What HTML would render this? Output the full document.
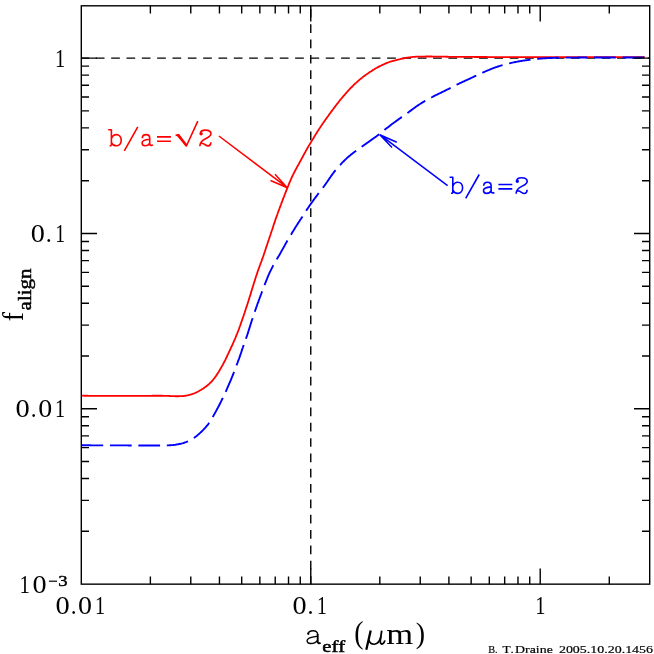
<!DOCTYPE html>
<html><head><meta charset="utf-8"><title>f_align</title>
<style>
html,body{margin:0;padding:0;background:#fff;}
svg{display:block;}
text{font-family:"Liberation Serif",serif;}
.m{font-family:"Liberation Mono",monospace;}
</style></head><body>
<svg width="654" height="654" viewBox="0 0 654 654">
<rect width="654" height="654" fill="#fff"/>
<!-- dashed reference lines -->
<path d="M81.3,58.15 H649.7" stroke="#000" stroke-width="1.4" fill="none" stroke-dasharray="8.7 6.63" stroke-dashoffset="0.8"/>
<path d="M310.76,584.15 V5.8" stroke="#000" stroke-width="1.4" fill="none" stroke-dasharray="8.7 6.63" stroke-dashoffset="0.65"/>
<!-- curves -->
<path d="M81.5,395.70 L82.5,395.71 L83.5,395.72 L84.5,395.74 L85.5,395.75 L86.5,395.76 L87.5,395.77 L88.5,395.78 L89.5,395.80 L90.5,395.81 L91.5,395.82 L92.5,395.83 L93.5,395.84 L94.5,395.85 L95.5,395.85 L96.5,395.86 L97.5,395.87 L98.5,395.88 L99.5,395.88 L100.5,395.89 L101.5,395.89 L102.5,395.89 L103.5,395.89 L104.5,395.90 L105.5,395.90 L106.5,395.90 L107.5,395.90 L108.5,395.90 L109.5,395.90 L110.5,395.90 L111.5,395.90 L112.5,395.90 L113.5,395.90 L114.5,395.90 L115.5,395.90 L116.5,395.90 L117.5,395.90 L118.5,395.90 L119.5,395.90 L120.5,395.90 L121.5,395.90 L122.5,395.90 L123.5,395.90 L124.5,395.90 L125.5,395.90 L126.5,395.90 L127.5,395.90 L128.5,395.90 L129.5,395.90 L130.5,395.90 L131.5,395.90 L132.5,395.90 L133.5,395.90 L134.5,395.90 L135.5,395.90 L136.5,395.90 L137.5,395.90 L138.5,395.90 L139.5,395.89 L140.5,395.89 L141.5,395.89 L142.5,395.88 L143.5,395.87 L144.5,395.86 L145.5,395.86 L146.5,395.84 L147.5,395.83 L148.5,395.82 L149.5,395.81 L150.5,395.79 L151.5,395.78 L152.5,395.77 L153.5,395.76 L154.5,395.75 L155.5,395.74 L156.5,395.73 L157.5,395.73 L158.5,395.73 L159.5,395.73 L160.5,395.74 L161.5,395.75 L162.5,395.77 L163.5,395.79 L164.5,395.82 L165.5,395.85 L166.5,395.89 L167.5,395.93 L168.5,395.97 L169.5,396.02 L170.5,396.06 L171.5,396.11 L172.5,396.15 L173.5,396.19 L174.5,396.21 L175.5,396.23 L176.5,396.25 L177.5,396.25 L178.5,396.24 L179.5,396.22 L180.5,396.19 L181.5,396.14 L182.5,396.08 L183.5,396.00 L184.5,395.89 L185.4,395.76 L186.4,395.61 L187.4,395.42 L188.4,395.21 L189.3,394.98 L190.3,394.71 L191.3,394.43 L192.2,394.11 L193.1,393.77 L194.1,393.41 L195.0,393.03 L195.9,392.62 L196.8,392.19 L197.7,391.75 L198.6,391.28 L199.4,390.80 L200.3,390.31 L201.2,389.80 L202.0,389.27 L202.9,388.73 L203.7,388.17 L204.5,387.60 L205.3,387.01 L206.1,386.41 L206.9,385.80 L207.7,385.17 L208.4,384.53 L209.2,383.87 L209.9,383.19 L210.6,382.49 L211.3,381.78 L212.0,381.05 L212.7,380.31 L213.3,379.54 L213.9,378.77 L214.5,377.98 L215.1,377.18 L215.7,376.37 L216.3,375.55 L216.8,374.72 L217.4,373.88 L217.9,373.04 L218.5,372.19 L219.0,371.34 L219.5,370.48 L220.0,369.62 L220.5,368.76 L221.0,367.89 L221.5,367.03 L222.0,366.15 L222.5,365.28 L223.0,364.40 L223.4,363.52 L223.9,362.64 L224.4,361.75 L224.8,360.86 L225.3,359.97 L225.7,359.07 L226.1,358.17 L226.6,357.27 L227.0,356.36 L227.4,355.46 L227.8,354.55 L228.3,353.64 L228.7,352.74 L229.1,351.83 L229.5,350.93 L230.0,350.02 L230.4,349.12 L230.8,348.21 L231.2,347.31 L231.6,346.40 L232.1,345.49 L232.5,344.58 L232.9,343.67 L233.3,342.75 L233.7,341.84 L234.1,340.92 L234.5,340.00 L234.9,339.08 L235.3,338.16 L235.7,337.24 L236.0,336.32 L236.4,335.39 L236.8,334.46 L237.2,333.54 L237.5,332.61 L237.9,331.67 L238.3,330.74 L238.6,329.81 L239.0,328.87 L239.3,327.93 L239.6,326.99 L240.0,326.05 L240.3,325.11 L240.7,324.17 L241.0,323.22 L241.3,322.28 L241.6,321.34 L242.0,320.39 L242.3,319.45 L242.6,318.50 L242.9,317.55 L243.3,316.61 L243.6,315.66 L243.9,314.71 L244.2,313.77 L244.6,312.82 L244.9,311.87 L245.2,310.92 L245.5,309.97 L245.8,309.02 L246.1,308.07 L246.4,307.12 L246.8,306.17 L247.1,305.22 L247.4,304.27 L247.7,303.32 L248.0,302.37 L248.3,301.41 L248.6,300.46 L248.9,299.50 L249.2,298.55 L249.5,297.59 L249.8,296.64 L250.1,295.68 L250.4,294.73 L250.7,293.77 L251.0,292.82 L251.2,291.86 L251.5,290.91 L251.8,289.95 L252.1,289.00 L252.4,288.04 L252.7,287.09 L253.0,286.13 L253.3,285.18 L253.6,284.22 L253.9,283.27 L254.2,282.31 L254.5,281.36 L254.8,280.41 L255.1,279.45 L255.4,278.50 L255.7,277.55 L256.0,276.60 L256.3,275.65 L256.7,274.70 L257.0,273.75 L257.3,272.80 L257.6,271.85 L257.9,270.90 L258.3,269.96 L258.6,269.01 L258.9,268.07 L259.3,267.13 L259.6,266.19 L259.9,265.25 L260.3,264.32 L260.6,263.38 L261.0,262.45 L261.4,261.51 L261.7,260.57 L262.0,259.63 L262.4,258.69 L262.7,257.75 L263.1,256.81 L263.4,255.87 L263.7,254.92 L264.0,253.97 L264.3,253.02 L264.7,252.08 L265.0,251.13 L265.3,250.18 L265.6,249.23 L265.9,248.28 L266.2,247.33 L266.5,246.38 L266.9,245.43 L267.2,244.48 L267.5,243.53 L267.8,242.58 L268.1,241.64 L268.4,240.69 L268.8,239.74 L269.1,238.79 L269.4,237.84 L269.7,236.90 L270.0,235.95 L270.4,235.00 L270.7,234.05 L271.0,233.10 L271.3,232.16 L271.6,231.21 L271.9,230.26 L272.3,229.31 L272.6,228.36 L272.9,227.41 L273.2,226.46 L273.5,225.51 L273.8,224.56 L274.1,223.61 L274.5,222.66 L274.8,221.72 L275.1,220.77 L275.4,219.82 L275.7,218.88 L276.1,217.93 L276.4,216.99 L276.7,216.05 L277.1,215.10 L277.4,214.16 L277.7,213.22 L278.1,212.28 L278.4,211.34 L278.8,210.40 L279.1,209.46 L279.5,208.53 L279.8,207.59 L280.2,206.65 L280.5,205.71 L280.9,204.78 L281.2,203.84 L281.6,202.91 L281.9,201.97 L282.3,201.03 L282.6,200.10 L283.0,199.16 L283.3,198.23 L283.7,197.30 L284.1,196.36 L284.4,195.43 L284.8,194.50 L285.1,193.56 L285.5,192.63 L285.9,191.70 L286.2,190.77 L286.6,189.84 L287.0,188.91 L287.3,187.98 L287.7,187.05 L288.1,186.12 L288.4,185.19 L288.8,184.27 L289.2,183.34 L289.6,182.42 L290.0,181.50 L290.4,180.58 L290.8,179.66 L291.2,178.75 L291.6,177.84 L292.0,176.93 L292.4,176.03 L292.9,175.13 L293.3,174.23 L293.8,173.34 L294.2,172.45 L294.7,171.56 L295.1,170.68 L295.6,169.79 L296.1,168.91 L296.6,168.03 L297.0,167.15 L297.5,166.28 L298.0,165.40 L298.5,164.53 L299.0,163.65 L299.4,162.78 L299.9,161.90 L300.4,161.03 L300.9,160.15 L301.4,159.27 L301.8,158.39 L302.3,157.51 L302.8,156.63 L303.3,155.75 L303.7,154.87 L304.2,153.98 L304.7,153.10 L305.2,152.23 L305.6,151.35 L306.1,150.48 L306.6,149.60 L307.1,148.74 L307.6,147.87 L308.1,147.01 L308.6,146.15 L309.1,145.29 L309.7,144.43 L310.2,143.57 L310.7,142.71 L311.2,141.86 L311.7,141.00 L312.2,140.14 L312.7,139.28 L313.3,138.42 L313.8,137.57 L314.3,136.71 L314.8,135.86 L315.3,135.00 L315.8,134.15 L316.4,133.30 L316.9,132.45 L317.4,131.61 L318.0,130.76 L318.5,129.92 L319.1,129.08 L319.6,128.25 L320.2,127.41 L320.7,126.58 L321.3,125.75 L321.8,124.92 L322.4,124.09 L323.0,123.27 L323.5,122.45 L324.1,121.63 L324.7,120.81 L325.2,119.99 L325.8,119.18 L326.4,118.36 L327.0,117.55 L327.6,116.74 L328.2,115.93 L328.8,115.13 L329.3,114.32 L329.9,113.52 L330.5,112.71 L331.1,111.91 L331.7,111.10 L332.3,110.30 L332.9,109.50 L333.5,108.70 L334.1,107.90 L334.7,107.10 L335.3,106.30 L335.9,105.50 L336.5,104.71 L337.1,103.91 L337.8,103.12 L338.4,102.33 L339.0,101.55 L339.6,100.76 L340.2,99.98 L340.9,99.21 L341.5,98.43 L342.1,97.66 L342.8,96.90 L343.4,96.13 L344.1,95.37 L344.7,94.61 L345.4,93.86 L346.0,93.11 L346.7,92.36 L347.4,91.62 L348.0,90.88 L348.7,90.15 L349.4,89.42 L350.1,88.69 L350.8,87.97 L351.5,87.25 L352.2,86.54 L352.9,85.83 L353.6,85.13 L354.3,84.44 L355.0,83.75 L355.8,83.07 L356.5,82.39 L357.3,81.73 L358.0,81.07 L358.8,80.41 L359.5,79.77 L360.3,79.13 L361.1,78.50 L361.9,77.88 L362.6,77.26 L363.4,76.65 L364.2,76.05 L365.0,75.45 L365.8,74.86 L366.6,74.27 L367.5,73.70 L368.3,73.12 L369.1,72.56 L369.9,72.00 L370.8,71.45 L371.6,70.91 L372.5,70.38 L373.3,69.85 L374.2,69.33 L375.0,68.82 L375.9,68.32 L376.8,67.83 L377.6,67.35 L378.5,66.87 L379.4,66.41 L380.3,65.95 L381.2,65.51 L382.1,65.07 L383.0,64.64 L383.9,64.23 L384.8,63.82 L385.7,63.43 L386.6,63.05 L387.6,62.69 L388.5,62.34 L389.5,62.01 L390.4,61.70 L391.4,61.41 L392.3,61.14 L393.3,60.88 L394.2,60.63 L395.2,60.39 L396.2,60.16 L397.2,59.92 L398.1,59.69 L399.1,59.45 L400.1,59.21 L401.0,58.97 L402.0,58.73 L403.0,58.50 L404.0,58.28 L404.9,58.07 L405.9,57.88 L406.9,57.70 L407.9,57.55 L408.9,57.40 L409.9,57.27 L410.8,57.16 L411.8,57.06 L412.8,56.97 L413.8,56.89 L414.8,56.82 L415.8,56.76 L416.8,56.71 L417.8,56.67 L418.8,56.63 L419.8,56.60 L420.8,56.58 L421.8,56.57 L422.8,56.55 L423.8,56.54 L424.8,56.53 L425.8,56.52 L426.8,56.52 L427.8,56.51 L428.8,56.51 L429.8,56.51 L430.8,56.52 L431.8,56.52 L432.8,56.53 L433.8,56.54 L434.8,56.55 L435.8,56.56 L436.8,56.58 L437.8,56.59 L438.8,56.61 L439.8,56.63 L440.8,56.64 L441.8,56.66 L442.8,56.68 L443.8,56.70 L444.8,56.72 L445.8,56.73 L446.8,56.75 L447.8,56.76 L448.8,56.78 L449.8,56.79 L450.8,56.80 L451.8,56.81 L452.8,56.82 L453.8,56.83 L454.8,56.84 L455.8,56.85 L456.8,56.86 L457.8,56.87 L458.8,56.88 L459.8,56.88 L460.8,56.89 L461.8,56.90 L462.8,56.91 L463.8,56.91 L464.8,56.92 L465.8,56.93 L466.8,56.93 L467.8,56.94 L468.8,56.94 L469.8,56.95 L470.8,56.96 L471.8,56.96 L472.8,56.97 L473.8,56.97 L474.8,56.98 L475.8,56.98 L476.8,56.99 L477.8,56.99 L478.8,56.99 L479.8,57.00 L480.8,57.00 L481.8,57.01 L482.8,57.01 L483.8,57.01 L484.8,57.02 L485.8,57.02 L486.8,57.02 L487.8,57.03 L488.8,57.03 L489.8,57.04 L490.8,57.04 L491.8,57.04 L492.8,57.05 L493.8,57.05 L494.8,57.05 L495.8,57.06 L496.8,57.06 L497.8,57.06 L498.8,57.06 L499.8,57.07 L500.8,57.07 L501.8,57.07 L502.8,57.08 L503.8,57.08 L504.8,57.08 L505.8,57.08 L506.8,57.08 L507.8,57.09 L508.8,57.09 L509.8,57.09 L510.8,57.09 L511.8,57.09 L512.8,57.09 L513.8,57.10 L514.8,57.10 L515.8,57.10 L516.8,57.10 L517.8,57.10 L518.8,57.10 L519.8,57.10 L520.8,57.10 L521.8,57.10 L522.8,57.10 L523.8,57.10 L524.8,57.10 L525.8,57.10 L526.8,57.10 L527.8,57.10 L528.8,57.10 L529.8,57.10 L530.8,57.10 L531.8,57.10 L532.8,57.10 L533.8,57.10 L534.8,57.10 L535.8,57.10 L536.8,57.10 L537.8,57.10 L538.8,57.10 L539.8,57.10 L540.8,57.10 L541.8,57.10 L542.8,57.10 L543.8,57.10 L544.8,57.10 L545.8,57.10 L546.8,57.10 L547.8,57.10 L548.8,57.10 L549.8,57.10 L550.8,57.10 L551.8,57.10 L552.8,57.10 L553.8,57.10 L554.8,57.10 L555.8,57.10 L556.8,57.10 L557.8,57.10 L558.8,57.10 L559.8,57.10 L560.8,57.10 L561.8,57.10 L562.8,57.10 L563.8,57.10 L564.8,57.10 L565.8,57.10 L566.8,57.10 L567.8,57.10 L568.8,57.10 L569.8,57.10 L570.8,57.10 L571.8,57.10 L572.8,57.10 L573.8,57.10 L574.8,57.10 L575.8,57.10 L576.8,57.10 L577.8,57.10 L578.8,57.10 L579.8,57.10 L580.8,57.10 L581.8,57.10 L582.8,57.10 L583.8,57.10 L584.8,57.10 L585.8,57.10 L586.8,57.10 L587.8,57.10 L588.8,57.10 L589.8,57.10 L590.8,57.10 L591.8,57.10 L592.8,57.10 L593.8,57.10 L594.8,57.10 L595.8,57.10 L596.8,57.10 L597.8,57.10 L598.8,57.10 L599.8,57.10 L600.8,57.10 L601.8,57.10 L602.8,57.10 L603.8,57.10 L604.8,57.10 L605.8,57.10 L606.8,57.10 L607.8,57.10 L608.8,57.10 L609.8,57.10 L610.8,57.10 L611.8,57.10 L612.8,57.10 L613.8,57.10 L614.8,57.10 L615.8,57.10 L616.8,57.10 L617.8,57.10 L618.8,57.10 L619.8,57.10 L620.8,57.10 L621.8,57.10 L622.8,57.10 L623.8,57.10 L624.8,57.10 L625.8,57.10 L626.8,57.10 L627.8,57.10 L628.8,57.10 L629.8,57.10 L630.8,57.10 L631.8,57.10 L632.8,57.10 L633.8,57.10 L634.8,57.10 L635.8,57.10 L636.8,57.10 L637.8,57.10 L638.8,57.10 L639.8,57.10 L640.7,57.10 L641.6,57.10 L642.5,57.10 L643.3,57.10 L644.1,57.10 L644.8,57.10" stroke="#ff0000" stroke-width="1.8" fill="none" stroke-linejoin="round"/>
<path d="M81.5,445.30 L82.5,445.30 L83.5,445.31 L84.5,445.31 L85.5,445.31 L86.5,445.31 L87.5,445.32 L88.5,445.32 L89.5,445.32 L90.5,445.32 L91.5,445.33 L92.5,445.33 L93.5,445.33 L94.5,445.33 L95.5,445.34 L96.5,445.34 L97.5,445.34 L98.5,445.34 L99.5,445.35 L100.5,445.35 L101.5,445.35 L102.5,445.35 L103.5,445.36 L104.5,445.36 L105.5,445.36 L106.5,445.37 L107.5,445.37 L108.5,445.37 L109.5,445.37 L110.5,445.38 L111.5,445.38 L112.5,445.38 L113.5,445.38 L114.5,445.39 L115.5,445.39 L116.5,445.39 L117.5,445.39 L118.5,445.40 L119.5,445.40 L120.5,445.40 L121.5,445.40 L122.5,445.41 L123.5,445.41 L124.5,445.41 L125.5,445.42 L126.5,445.42 L127.5,445.42 L128.5,445.43 L129.5,445.43 L130.5,445.43 L131.5,445.44 L132.5,445.44 L133.5,445.44 L134.5,445.44 L135.5,445.45 L136.5,445.45 L137.5,445.45 L138.5,445.46 L139.5,445.46 L140.5,445.46 L141.5,445.47 L142.5,445.47 L143.5,445.47 L144.5,445.48 L145.5,445.48 L146.5,445.48 L147.5,445.48 L148.5,445.49 L149.5,445.49 L150.5,445.49 L151.5,445.49 L152.5,445.49 L153.5,445.49 L154.5,445.50 L155.5,445.50 L156.5,445.50 L157.5,445.50 L158.5,445.50 L159.5,445.50 L160.5,445.50 L161.5,445.50 L162.5,445.49 L163.5,445.49 L164.5,445.48 L165.5,445.47 L166.5,445.45 L167.5,445.42 L168.5,445.38 L169.5,445.32 L170.5,445.26 L171.5,445.17 L172.5,445.08 L173.5,444.97 L174.5,444.84 L175.5,444.71 L176.4,444.55 L177.4,444.39 L178.4,444.21 L179.4,444.01 L180.4,443.80 L181.3,443.57 L182.3,443.32 L183.3,443.05 L184.2,442.75 L185.1,442.43 L186.1,442.09 L187.0,441.73 L187.9,441.33 L188.8,440.92 L189.7,440.48 L190.6,440.01 L191.5,439.53 L192.3,439.02 L193.2,438.48 L194.0,437.93 L194.8,437.35 L195.6,436.76 L196.4,436.14 L197.2,435.52 L197.9,434.87 L198.7,434.22 L199.4,433.56 L200.2,432.89 L200.9,432.20 L201.6,431.52 L202.3,430.82 L203.0,430.11 L203.7,429.39 L204.4,428.67 L205.1,427.93 L205.8,427.18 L206.4,426.42 L207.0,425.65 L207.7,424.86 L208.3,424.07 L208.8,423.26 L209.4,422.44 L210.0,421.60 L210.5,420.76 L211.0,419.91 L211.5,419.06 L212.0,418.20 L212.5,417.34 L213.0,416.47 L213.5,415.60 L214.0,414.73 L214.5,413.86 L215.0,412.98 L215.5,412.11 L216.0,411.23 L216.4,410.35 L216.9,409.47 L217.4,408.59 L217.9,407.71 L218.3,406.82 L218.8,405.94 L219.3,405.05 L219.7,404.16 L220.2,403.27 L220.6,402.38 L221.1,401.48 L221.5,400.59 L221.9,399.69 L222.4,398.79 L222.8,397.89 L223.3,396.99 L223.7,396.09 L224.1,395.18 L224.5,394.27 L225.0,393.37 L225.4,392.46 L225.8,391.55 L226.2,390.64 L226.6,389.73 L227.0,388.81 L227.4,387.90 L227.8,386.99 L228.2,386.07 L228.6,385.16 L229.0,384.24 L229.4,383.32 L229.8,382.40 L230.2,381.48 L230.6,380.56 L231.0,379.64 L231.4,378.71 L231.7,377.79 L232.1,376.86 L232.5,375.93 L232.9,375.00 L233.2,374.06 L233.6,373.13 L233.9,372.20 L234.3,371.26 L234.6,370.32 L235.0,369.39 L235.3,368.45 L235.7,367.52 L236.0,366.58 L236.4,365.65 L236.8,364.71 L237.1,363.78 L237.5,362.85 L237.8,361.91 L238.2,360.98 L238.5,360.05 L238.9,359.11 L239.2,358.17 L239.6,357.23 L239.9,356.29 L240.2,355.34 L240.5,354.39 L240.9,353.44 L241.2,352.50 L241.5,351.55 L241.8,350.60 L242.1,349.65 L242.4,348.70 L242.8,347.75 L243.1,346.81 L243.4,345.86 L243.7,344.92 L244.1,343.98 L244.4,343.03 L244.8,342.09 L245.1,341.16 L245.4,340.22 L245.8,339.28 L246.1,338.33 L246.4,337.39 L246.8,336.45 L247.1,335.50 L247.4,334.55 L247.7,333.60 L248.0,332.65 L248.3,331.70 L248.6,330.75 L248.9,329.79 L249.2,328.84 L249.5,327.88 L249.8,326.93 L250.1,325.97 L250.4,325.02 L250.7,324.06 L251.0,323.11 L251.3,322.16 L251.6,321.20 L251.9,320.25 L252.2,319.30 L252.6,318.35 L252.9,317.40 L253.2,316.45 L253.5,315.50 L253.8,314.56 L254.1,313.61 L254.5,312.66 L254.8,311.72 L255.1,310.77 L255.4,309.83 L255.8,308.88 L256.1,307.94 L256.4,306.99 L256.8,306.05 L257.1,305.11 L257.4,304.17 L257.8,303.23 L258.1,302.29 L258.5,301.34 L258.8,300.40 L259.1,299.46 L259.5,298.53 L259.8,297.59 L260.2,296.65 L260.5,295.71 L260.9,294.77 L261.2,293.83 L261.6,292.90 L261.9,291.96 L262.3,291.02 L262.6,290.09 L263.0,289.15 L263.3,288.22 L263.7,287.28 L264.0,286.35 L264.4,285.42 L264.8,284.48 L265.1,283.55 L265.5,282.62 L265.9,281.69 L266.2,280.76 L266.6,279.83 L267.0,278.91 L267.3,277.98 L267.7,277.06 L268.1,276.13 L268.5,275.21 L268.9,274.30 L269.3,273.38 L269.7,272.47 L270.1,271.57 L270.6,270.67 L271.0,269.77 L271.5,268.87 L271.9,267.98 L272.4,267.10 L272.8,266.22 L273.3,265.34 L273.8,264.46 L274.3,263.59 L274.8,262.73 L275.3,261.86 L275.8,261.00 L276.3,260.14 L276.8,259.28 L277.3,258.42 L277.8,257.55 L278.3,256.69 L278.9,255.83 L279.4,254.96 L279.9,254.10 L280.4,253.23 L280.8,252.36 L281.3,251.49 L281.8,250.62 L282.3,249.75 L282.8,248.88 L283.3,248.00 L283.8,247.13 L284.3,246.25 L284.7,245.37 L285.2,244.50 L285.7,243.63 L286.2,242.76 L286.7,241.89 L287.2,241.02 L287.7,240.16 L288.2,239.30 L288.7,238.44 L289.2,237.58 L289.8,236.73 L290.3,235.87 L290.8,235.01 L291.3,234.16 L291.8,233.30 L292.3,232.44 L292.8,231.59 L293.4,230.73 L293.9,229.87 L294.4,229.02 L294.9,228.16 L295.4,227.31 L296.0,226.47 L296.5,225.62 L297.1,224.78 L297.6,223.94 L298.1,223.10 L298.7,222.27 L299.2,221.44 L299.8,220.60 L300.3,219.77 L300.9,218.93 L301.4,218.10 L302.0,217.26 L302.5,216.42 L303.1,215.57 L303.6,214.73 L304.1,213.89 L304.7,213.04 L305.2,212.20 L305.8,211.36 L306.3,210.52 L306.8,209.68 L307.4,208.85 L308.0,208.02 L308.5,207.19 L309.1,206.37 L309.7,205.55 L310.2,204.73 L310.8,203.92 L311.4,203.11 L312.0,202.29 L312.6,201.48 L313.1,200.67 L313.7,199.86 L314.3,199.05 L314.9,198.24 L315.5,197.43 L316.1,196.62 L316.7,195.81 L317.3,195.01 L317.9,194.21 L318.5,193.41 L319.1,192.62 L319.7,191.83 L320.3,191.04 L320.9,190.25 L321.5,189.47 L322.2,188.68 L322.8,187.89 L323.4,187.10 L324.0,186.30 L324.6,185.50 L325.2,184.69 L325.7,183.88 L326.3,183.06 L326.9,182.24 L327.4,181.41 L328.0,180.58 L328.6,179.76 L329.1,178.93 L329.7,178.10 L330.3,177.28 L330.8,176.46 L331.4,175.65 L332.0,174.84 L332.6,174.03 L333.2,173.23 L333.8,172.43 L334.4,171.64 L335.0,170.86 L335.7,170.08 L336.3,169.31 L336.9,168.55 L337.6,167.79 L338.2,167.04 L338.9,166.29 L339.6,165.55 L340.3,164.81 L340.9,164.08 L341.6,163.35 L342.3,162.63 L343.0,161.92 L343.7,161.21 L344.4,160.50 L345.1,159.81 L345.9,159.12 L346.6,158.44 L347.3,157.76 L348.1,157.10 L348.8,156.44 L349.6,155.79 L350.4,155.15 L351.1,154.52 L351.9,153.90 L352.7,153.28 L353.5,152.67 L354.3,152.07 L355.1,151.48 L355.9,150.89 L356.7,150.30 L357.5,149.72 L358.3,149.14 L359.2,148.56 L360.0,147.98 L360.8,147.40 L361.6,146.83 L362.4,146.25 L363.2,145.67 L364.1,145.10 L364.9,144.52 L365.7,143.94 L366.5,143.36 L367.3,142.79 L368.1,142.21 L369.0,141.63 L369.8,141.05 L370.6,140.47 L371.4,139.89 L372.2,139.32 L373.0,138.74 L373.8,138.16 L374.7,137.57 L375.5,136.99 L376.3,136.40 L377.1,135.80 L377.9,135.20 L378.7,134.59 L379.5,133.98 L380.3,133.36 L381.0,132.74 L381.8,132.12 L382.6,131.49 L383.4,130.86 L384.2,130.24 L384.9,129.61 L385.7,128.99 L386.5,128.37 L387.3,127.75 L388.1,127.13 L388.9,126.52 L389.7,125.91 L390.4,125.30 L391.2,124.70 L392.0,124.09 L392.8,123.49 L393.6,122.90 L394.4,122.30 L395.3,121.71 L396.1,121.12 L396.9,120.53 L397.7,119.94 L398.5,119.36 L399.3,118.78 L400.1,118.19 L400.9,117.61 L401.7,117.03 L402.6,116.46 L403.4,115.88 L404.2,115.30 L405.0,114.73 L405.8,114.15 L406.6,113.57 L407.5,112.99 L408.3,112.41 L409.1,111.82 L409.9,111.23 L410.7,110.63 L411.5,110.04 L412.3,109.44 L413.1,108.84 L413.9,108.24 L414.7,107.65 L415.5,107.07 L416.3,106.49 L417.1,105.92 L418.0,105.35 L418.8,104.80 L419.6,104.25 L420.5,103.71 L421.3,103.18 L422.2,102.65 L423.0,102.13 L423.9,101.62 L424.7,101.11 L425.6,100.61 L426.5,100.11 L427.4,99.62 L428.2,99.14 L429.1,98.66 L430.0,98.19 L430.9,97.72 L431.8,97.26 L432.6,96.80 L433.5,96.35 L434.4,95.90 L435.3,95.46 L436.2,95.02 L437.1,94.58 L438.0,94.14 L438.9,93.70 L439.8,93.26 L440.7,92.82 L441.6,92.38 L442.5,91.94 L443.4,91.50 L444.3,91.05 L445.2,90.61 L446.1,90.16 L447.0,89.71 L447.9,89.26 L448.8,88.81 L449.7,88.35 L450.6,87.90 L451.4,87.44 L452.3,86.98 L453.2,86.52 L454.1,86.06 L455.0,85.61 L455.9,85.16 L456.8,84.71 L457.7,84.27 L458.6,83.83 L459.5,83.40 L460.4,82.97 L461.3,82.55 L462.2,82.13 L463.1,81.71 L464.0,81.29 L464.9,80.88 L465.8,80.46 L466.7,80.04 L467.6,79.62 L468.6,79.20 L469.5,78.78 L470.4,78.35 L471.3,77.93 L472.2,77.50 L473.1,77.08 L474.0,76.66 L474.9,76.23 L475.8,75.81 L476.7,75.39 L477.6,74.97 L478.5,74.55 L479.4,74.13 L480.3,73.71 L481.3,73.30 L482.2,72.88 L483.1,72.47 L484.0,72.06 L484.9,71.65 L485.8,71.24 L486.7,70.83 L487.6,70.43 L488.6,70.04 L489.5,69.65 L490.4,69.26 L491.3,68.89 L492.3,68.52 L493.2,68.17 L494.1,67.82 L495.1,67.48 L496.0,67.15 L497.0,66.83 L497.9,66.52 L498.9,66.22 L499.8,65.92 L500.8,65.63 L501.7,65.35 L502.7,65.07 L503.7,64.80 L504.6,64.54 L505.6,64.28 L506.6,64.03 L507.5,63.79 L508.5,63.55 L509.5,63.31 L510.4,63.08 L511.4,62.86 L512.4,62.64 L513.4,62.43 L514.3,62.22 L515.3,62.02 L516.3,61.83 L517.3,61.64 L518.3,61.46 L519.3,61.29 L520.2,61.13 L521.2,60.97 L522.2,60.82 L523.2,60.67 L524.2,60.53 L525.2,60.39 L526.2,60.25 L527.2,60.12 L528.2,59.99 L529.1,59.86 L530.1,59.73 L531.1,59.60 L532.1,59.48 L533.1,59.36 L534.1,59.24 L535.1,59.12 L536.1,59.01 L537.1,58.91 L538.1,58.81 L539.1,58.71 L540.1,58.62 L541.1,58.54 L542.1,58.46 L543.1,58.39 L544.1,58.32 L545.1,58.25 L546.1,58.19 L547.1,58.14 L548.1,58.09 L549.1,58.04 L550.1,58.00 L551.1,57.96 L552.1,57.93 L553.1,57.89 L554.0,57.86 L555.0,57.84 L556.0,57.81 L557.0,57.79 L558.0,57.77 L559.0,57.75 L560.0,57.73 L561.0,57.72 L562.0,57.70 L563.0,57.69 L564.0,57.68 L565.0,57.67 L566.0,57.66 L567.0,57.65 L568.0,57.64 L569.0,57.64 L570.0,57.63 L571.0,57.62 L572.0,57.61 L573.0,57.60 L574.0,57.60 L575.0,57.59 L576.0,57.58 L577.0,57.58 L578.0,57.57 L579.0,57.57 L580.0,57.56 L581.0,57.55 L582.0,57.55 L583.0,57.54 L584.0,57.54 L585.0,57.53 L586.0,57.53 L587.0,57.53 L588.0,57.52 L589.0,57.52 L590.0,57.52 L591.0,57.51 L592.0,57.51 L593.0,57.51 L594.0,57.51 L595.0,57.51 L596.0,57.50 L597.0,57.50 L598.0,57.50 L599.0,57.50 L600.0,57.50 L601.0,57.50 L602.0,57.50 L603.0,57.50 L604.0,57.50 L605.0,57.50 L606.0,57.50 L607.0,57.50 L608.0,57.50 L609.0,57.50 L610.0,57.50 L611.0,57.50 L612.0,57.50 L613.0,57.50 L614.0,57.50 L615.0,57.50 L616.0,57.50 L617.0,57.50 L618.0,57.50 L619.0,57.50 L620.0,57.50 L621.0,57.50 L622.0,57.50 L623.0,57.50 L624.0,57.50 L625.0,57.50 L626.0,57.50 L627.0,57.50 L628.0,57.50 L629.0,57.50 L630.0,57.50 L631.0,57.50 L632.0,57.50 L633.0,57.50 L634.0,57.50 L635.0,57.50 L636.0,57.50 L637.0,57.50 L638.0,57.50 L639.0,57.50 L640.0,57.50 L641.0,57.50 L642.0,57.50 L643.0,57.50 L644.0,57.50 L644.9,57.50" stroke="#0000ff" stroke-width="1.9" fill="none" stroke-linejoin="round" stroke-dasharray="21.7 6.74"/>
<!-- frame and ticks -->
<rect x="81.3" y="5.8" width="568.40" height="578.35" fill="none" stroke="#000" stroke-width="1.4"/>
<path d="M150.37,584.15 v-7.7 M150.37,5.8 v7.7 M190.78,584.15 v-7.7 M190.78,5.8 v7.7 M219.45,584.15 v-7.7 M219.45,5.8 v7.7 M241.69,584.15 v-7.7 M241.69,5.8 v7.7 M259.85,584.15 v-7.7 M259.85,5.8 v7.7 M275.22,584.15 v-7.7 M275.22,5.8 v7.7 M288.52,584.15 v-7.7 M288.52,5.8 v7.7 M300.26,584.15 v-7.7 M300.26,5.8 v7.7 M310.76,584.15 v-15.7 M310.76,5.8 v15.7 M379.83,584.15 v-7.7 M379.83,5.8 v7.7 M420.24,584.15 v-7.7 M420.24,5.8 v7.7 M448.91,584.15 v-7.7 M448.91,5.8 v7.7 M471.15,584.15 v-7.7 M471.15,5.8 v7.7 M489.31,584.15 v-7.7 M489.31,5.8 v7.7 M504.68,584.15 v-7.7 M504.68,5.8 v7.7 M517.98,584.15 v-7.7 M517.98,5.8 v7.7 M529.72,584.15 v-7.7 M529.72,5.8 v7.7 M540.22,584.15 v-15.7 M540.22,5.8 v15.7 M609.29,584.15 v-7.7 M609.29,5.8 v7.7 M81.3,531.28 h7.7 M649.7,531.28 h-7.7 M81.3,500.41 h7.7 M649.7,500.41 h-7.7 M81.3,478.51 h7.7 M649.7,478.51 h-7.7 M81.3,461.52 h7.7 M649.7,461.52 h-7.7 M81.3,447.64 h7.7 M649.7,447.64 h-7.7 M81.3,435.90 h7.7 M649.7,435.90 h-7.7 M81.3,425.74 h7.7 M649.7,425.74 h-7.7 M81.3,416.77 h7.7 M649.7,416.77 h-7.7 M81.3,408.75 h15.7 M649.7,408.75 h-15.7 M81.3,355.98 h7.7 M649.7,355.98 h-7.7 M81.3,325.11 h7.7 M649.7,325.11 h-7.7 M81.3,303.21 h7.7 M649.7,303.21 h-7.7 M81.3,286.22 h7.7 M649.7,286.22 h-7.7 M81.3,272.34 h7.7 M649.7,272.34 h-7.7 M81.3,260.60 h7.7 M649.7,260.60 h-7.7 M81.3,250.44 h7.7 M649.7,250.44 h-7.7 M81.3,241.47 h7.7 M649.7,241.47 h-7.7 M81.3,233.45 h15.7 M649.7,233.45 h-15.7 M81.3,180.68 h7.7 M649.7,180.68 h-7.7 M81.3,149.81 h7.7 M649.7,149.81 h-7.7 M81.3,127.91 h7.7 M649.7,127.91 h-7.7 M81.3,110.92 h7.7 M649.7,110.92 h-7.7 M81.3,97.04 h7.7 M649.7,97.04 h-7.7 M81.3,85.30 h7.7 M649.7,85.30 h-7.7 M81.3,75.14 h7.7 M649.7,75.14 h-7.7 M81.3,66.17 h7.7 M649.7,66.17 h-7.7 M81.3,58.15 h15.7 M649.7,58.15 h-15.7" stroke="#000" stroke-width="1.4" fill="none"/>
<!-- arrows -->
<path d="M218.9,136.0 L287.3,187.7 M275,174.3 L287.3,187.7 L270.5,180.5" stroke="#ff0000" stroke-width="1.5" fill="none"/>
<path d="M447.6,185.6 L379.8,134.7 M396.8,142.2 L379.8,134.7 L392.0,147.6" stroke="#0000ff" stroke-width="1.5" fill="none"/>
<!-- text labels -->
<g style="font-kerning:none;font-variant-ligatures:none;opacity:0.999">
<text transform="translate(54.96,66.50) scale(0.8303,1)" font-size="24.6" fill="#000">1</text>
<text transform="translate(30.69,241.80) scale(1.1478,1)" font-size="24.6" fill="#000">0</text><text transform="translate(45.78,241.80) scale(0.9824,1)" font-size="24.6" fill="#000">.</text><text transform="translate(55.24,241.80) scale(0.7957,1)" font-size="24.6" fill="#000">1</text>
<text transform="translate(15.58,417.20) scale(1.1573,1)" font-size="24.6" fill="#000">0</text><text transform="translate(30.83,417.20) scale(0.9485,1)" font-size="24.6" fill="#000">.</text><text transform="translate(38.30,417.20) scale(1.1382,1)" font-size="24.6" fill="#000">0</text><text transform="translate(55.09,417.20) scale(0.8188,1)" font-size="24.6" fill="#000">1</text>
<text transform="translate(19.44,592.70) scale(0.8418,1)" font-size="24.6" fill="#000">1</text>
<text transform="translate(32.39,592.70) scale(1.1478,1)" font-size="24.6" fill="#000">0</text>
<path d="M49.0,581.2 H57.0" stroke="#000" stroke-width="1.2"/>
<text transform="translate(58.26,585.60) scale(1.2281,1)" font-size="15.2" fill="#000" stroke="#000" stroke-width="0.45">3</text>
<text transform="translate(55.38,613.70) scale(1.1573,1)" font-size="24.6" fill="#000">0</text><text transform="translate(70.63,613.70) scale(0.9485,1)" font-size="24.6" fill="#000">.</text><text transform="translate(78.10,613.70) scale(1.1382,1)" font-size="24.6" fill="#000">0</text><text transform="translate(94.89,613.70) scale(0.8188,1)" font-size="24.6" fill="#000">1</text>
<text transform="translate(292.49,613.70) scale(1.1478,1)" font-size="24.6" fill="#000">0</text><text transform="translate(307.58,613.70) scale(0.9824,1)" font-size="24.6" fill="#000">.</text><text transform="translate(317.04,613.70) scale(0.7957,1)" font-size="24.6" fill="#000">1</text>
<text transform="translate(535.16,613.70) scale(0.8303,1)" font-size="24.6" fill="#000">1</text>
<g fill="none" stroke="#000" stroke-linecap="butt" stroke-linejoin="round"><path d="M307.9,634.0 C308.5,631.7 310.6,630.8 313,630.8 C316,630.8 317.6,632.2 317.7,634.8" stroke-width="1.4"/><path d="M317.7,634 V641.2 C317.7,643.1 318.9,643.8 320.6,642.8" stroke-width="1.9"/><path d="M317.7,636.2 C314,636.7 307.1,637.2 307.1,640.6 C307.1,642.6 308.6,643.5 310.6,643.5 C313.4,643.5 316.4,642.4 317.7,640.0" stroke-width="1.4"/><circle cx="308.3" cy="633.8" r="1.15" fill="#000" stroke="none"/></g>
<text transform="translate(322.22,652.00) scale(1.2477,1)" font-size="16.6" fill="#000" stroke="#000" stroke-width="0.5">eff</text>
<text transform="translate(354.20,643.40) scale(0.9129,1)" font-size="30.5" fill="#000">(</text>
<g fill="none" stroke="#000" stroke-linecap="butt" stroke-linejoin="round"><path d="M370.7,630.6 L366.3,649.7" stroke-width="2.3"/><path d="M369.0,639.6 C369.2,643 371.8,644.4 374.4,644.2 C377.6,643.9 380,640.5 380.9,636.5" stroke-width="1.6"/><path d="M381.7,630.6 L380.3,640.6 C380,643.6 381.6,644.6 383.0,643.6 C384,642.8 384.6,641.7 384.9,640.4" stroke-width="1.8"/></g>
<text transform="translate(386.26,644.20) scale(1.1733,1)" font-size="29.5" fill="#000">m</text>
<text transform="translate(415.64,643.40) scale(0.9168,1)" font-size="30.5" fill="#000">)</text>
<g transform="translate(23.0,320.7) rotate(-90)"><text transform="translate(-0.57,0.00) scale(0.9627,1)" font-size="28.5" fill="#000">f</text></g>
<g transform="translate(31.3,309.9) rotate(-90)"><text transform="translate(-0.49,0.00) scale(1.1304,1)" font-size="18.6" fill="#000" stroke="#000" stroke-width="0.5">align</text></g>
<text transform="translate(488.14,652.50) scale(0.9145,1)" font-size="11.3" fill="#000" stroke="#000" stroke-width="0.2">B.</text>
<text transform="translate(502.42,652.50) scale(1.1799,1)" font-size="11.3" fill="#000" stroke="#000" stroke-width="0.2">T.</text>
<text transform="translate(515.03,652.50) scale(1.2321,1)" font-size="11.3" fill="#000" stroke="#000" stroke-width="0.2">Draine</text>
<text transform="translate(558.92,652.50) scale(1.2343,1)" font-size="11.3" fill="#000" stroke="#000" stroke-width="0.2">2005.10.20.1456</text>
</g>
<!-- curve labels -->
<defs>
<path id="gb" d="M108.2,129.7 H111.4 V145.7 M111.4,138.6 C112.4,135.8 114.3,134.6 116.3,134.6 C119.3,134.6 121.2,137 121.2,140.2 C121.2,143.4 119.3,145.8 116.3,145.8 C114.3,145.8 112.4,144.8 111.4,142.6 M109.6,145.7 H111.4"/>
<path id="gs" d="M124.3,150.8 L137.8,126.9"/>
<path id="ga" d="M141.6,138.2 C141.6,135.8 143.2,134.6 145.4,134.6 C147.8,134.6 149,135.9 149,138 V143.4 C149,145.2 150.4,146 152.3,144.9 M149,139.3 C146,139.6 141.4,140 141.4,143 C141.4,144.8 142.8,145.8 144.5,145.8 C146.5,145.8 148.3,144.8 149,143"/>
<path id="ge" d="M156.4,136.9 H170.3 M156.4,141.3 H170.3"/>
<g id="g2"><path d="M200.4,133.6 C200.4,131.4 202.3,130.1 205.3,130.1 C208.6,130.1 211,131.4 211,133.8 C211,136.2 208.5,137.2 205.5,138.8 C202.5,140.4 200.2,142.5 199.9,145.6 C200.1,143.6 201.3,142.9 202.9,143.5 C204.6,144.1 206.2,145.9 208.3,145.9 C210,145.9 210.8,144.4 210.9,142.2"/><circle cx="201.1" cy="133.7" r="0.9" fill="currentColor"/></g>
<path id="gr" d="M175.6,135.4 L178.6,134.8 L186.4,146 L197.8,121.2"/>
</defs>
<g fill="none" color="#ff0000" stroke="currentColor" stroke-width="1.6" stroke-linejoin="round" stroke-linecap="butt">
<use href="#gb"/><use href="#gs"/><use href="#ga" x="0.7"/><use href="#ge" x="0.6"/><use href="#gr"/><path d="M177.6,134.6 L186.3,145.2" stroke-width="2.6"/><use href="#g2"/>
</g>
<g fill="none" color="#0000ff" stroke="currentColor" stroke-width="1.6" stroke-linejoin="round" stroke-linecap="butt" transform="translate(341.4,47.6)">
<use href="#gb"/><use href="#gs"/><use href="#ga" x="0.7"/><use href="#ge" x="0.6"/><use href="#g2" transform="translate(-25.2,0)"/>
</g>
</svg>
</body></html>
